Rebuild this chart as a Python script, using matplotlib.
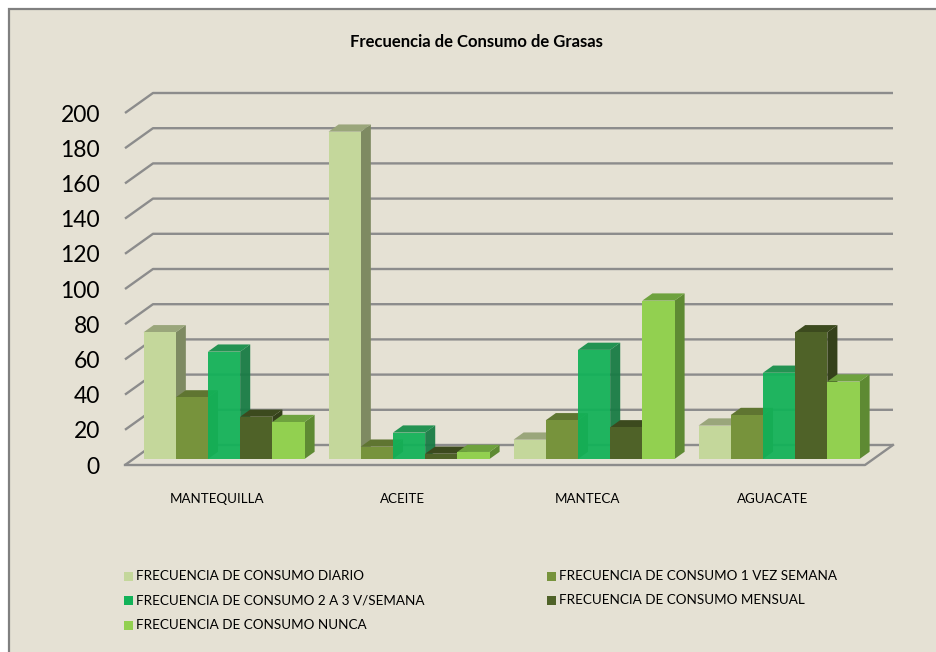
import matplotlib.pyplot as plt
from matplotlib.patches import Polygon, Rectangle
import numpy as np

categorias = ['MANTEQUILLA', 'ACEITE', 'MANTECA', 'AGUACATE']
series = ['FRECUENCIA DE CONSUMO DIARIO',
          'FRECUENCIA DE CONSUMO 1 VEZ SEMANA',
          'FRECUENCIA DE CONSUMO 2 A 3 V/SEMANA',
          'FRECUENCIA DE CONSUMO MENSUAL',
          'FRECUENCIA DE CONSUMO NUNCA']
diario = [72, 186, 11, 19]
una_vez = [35, 7, 22, 25]
dos_tres = [61, 15, 62, 49]
mensual = [24, 3, 18, 72]
nunca = [21, 4, 90, 44]
valores = [diario, una_vez, dos_tres, mensual, nunca]

# front, top, side colours for each series
frente = ['#C4D79B', '#77933C', '#12B258', '#4F6228', '#92D050']
arriba = ['#9AA67B', '#5F7531', '#178E4A', '#3C4A1E', '#6EA23E']
lado = ['#7E8A62', '#5A6E2E', '#177B44', '#34401A', '#5E8A33']
alfa = [1, 1, 0.94, 1, 1]

W, H = 937, 652
fig = plt.figure(figsize=(W / 100, H / 100), dpi=100)
fig.patch.set_facecolor('white')
fig.patches.append(Rectangle((9 / W, -0.05), 1.1, 1 - 9 / H + 0.05, transform=fig.transFigure,
                             facecolor='#E5E1D4', edgecolor='#808080', linewidth=1.6, zorder=-10))

# front plane of the plot box
x0, x1, y0, y1 = 125, 865, 465, 113
ax = fig.add_axes([x0 / W, 1 - y0 / H, (x1 - x0) / W, (y0 - y1) / H])
ax.set_zorder(5)
ax.set_xlim(0, 4)
ax.set_ylim(0, 200)
ax.patch.set_alpha(0)
for s in ax.spines.values():
    s.set_visible(False)

# depth of the box in data units
dx = 28 / (x1 - x0) * 4
dy = 20 / (y0 - y1) * 200
gris = '#8C8C8C'

for v in range(0, 201, 20):
    ax.plot([0, dx, 4 + dx], [v, v + dy, v + dy], color=gris, lw=1.7, zorder=1,
            clip_on=False, solid_capstyle='butt')
ax.plot([0, 4, 4 + dx], [0, 0, dy], color=gris, lw=1.7, zorder=1, clip_on=False)

t0, t1 = 0.3, 0.66
w = 0.174
z = 2
for i in range(len(categorias)):
    for j, vals in enumerate(valores):
        v = vals[i]
        xl = i + 0.49 - 2.5 * w + j * w + t0 * dx
        yb = t0 * dy
        ox, oy = (t1 - t0) * dx, (t1 - t0) * dy
        xr = xl + w
        yt = yb + v
        side = Polygon([(xr, yb), (xr + ox, yb + oy), (xr + ox, yt + oy), (xr, yt)],
                       closed=True, facecolor=lado[j], edgecolor='none', alpha=alfa[j],
                       zorder=z, clip_on=False)
        top = Polygon([(xl, yt), (xl + ox, yt + oy), (xr + ox, yt + oy), (xr, yt)],
                      closed=True, facecolor=arriba[j], edgecolor='none', alpha=alfa[j],
                      zorder=z, clip_on=False)
        ax.add_patch(side)
        ax.add_patch(top)
        b = ax.bar(xl, v, bottom=yb, width=w, align='edge', color=frente[j],
                   alpha=alfa[j], zorder=z + 0.5)
        b[0].set_clip_on(False)
        z += 1

ax.set_yticks(range(0, 201, 20))
ax.set_yticklabels([str(v) for v in range(0, 201, 20)], fontsize=16.5, family='Lato')
ax.set_xticks([i + 0.5 for i in range(len(categorias))])
ax.set_xticklabels(categorias, fontsize=9.6, family='Lato')
ax.tick_params(axis='y', length=0, pad=18)
ax.tick_params(axis='x', length=0, pad=20)

fig.text(476 / W, 1 - 42 / H, 'Frecuencia de Consumo de Grasas', ha='center', va='center',
         fontsize=12, fontweight='bold', family='Lato')

# legend, two columns filled row by row
for k, nombre in enumerate(series):
    fila, col = k // 2, k % 2
    lx = 124 + col * 423
    ly = 576 + fila * 24.5
    fig.patches.append(Rectangle((lx / W, 1 - (ly + 4.5) / H), 9 / W, 9 / H,
                                 transform=fig.transFigure, facecolor=frente[k],
                                 edgecolor='none'))
    fig.text((lx + 12) / W, 1 - ly / H, nombre, ha='left', va='center',
             fontsize=9.7, family='Lato')

fig.savefig('out.png', dpi=100)
